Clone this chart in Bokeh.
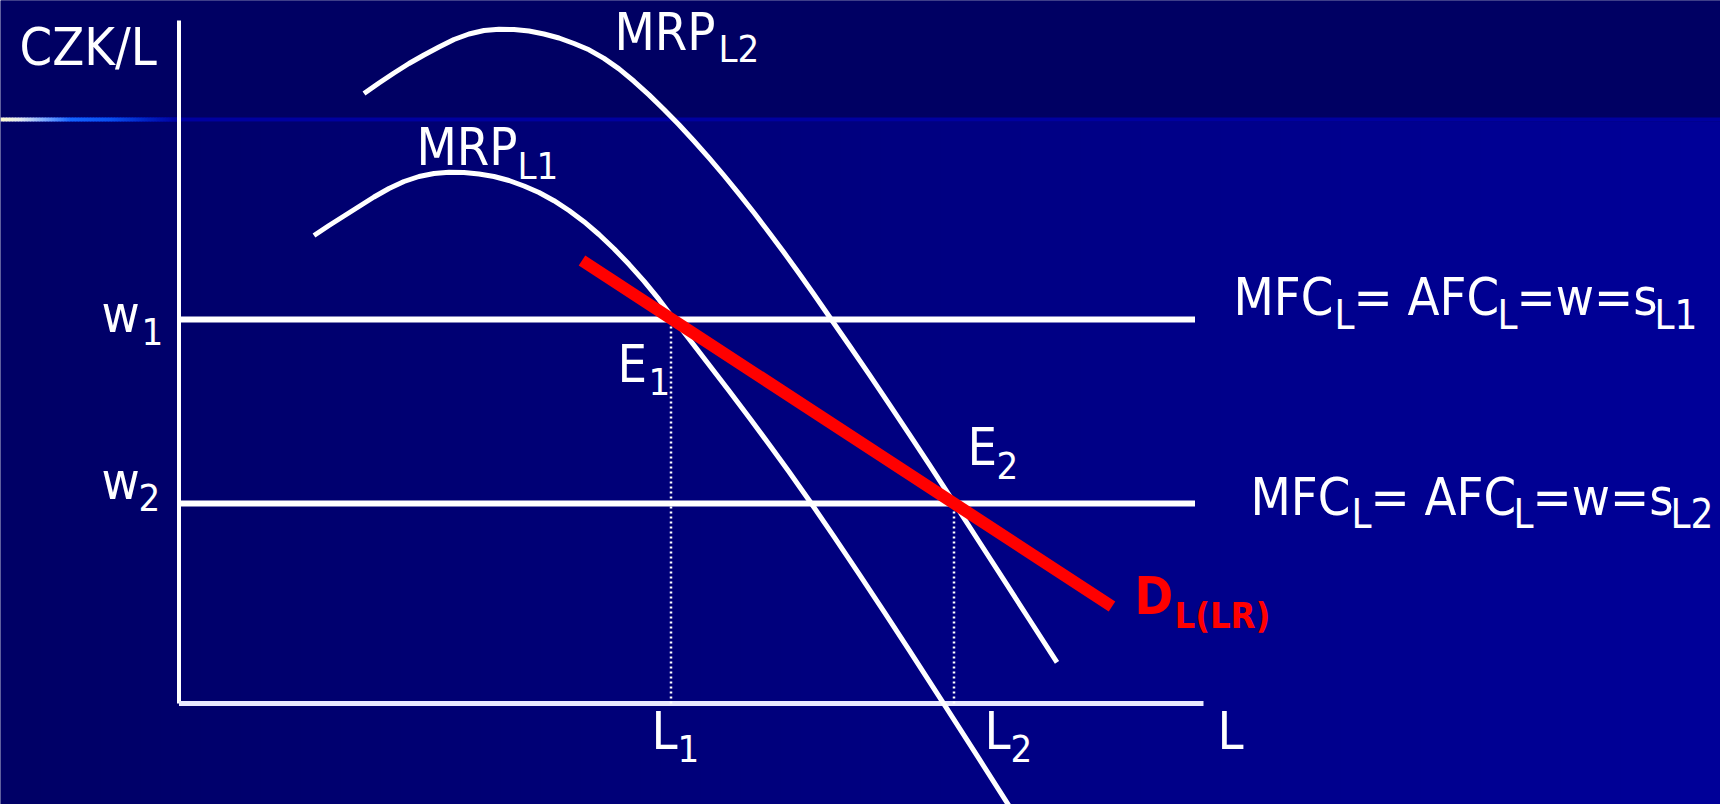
import numpy as np
from bokeh.plotting import figure
from bokeh.models import Range1d, ColumnDataSource
from bokeh.core.properties import value
from bokeh.embed import file_html
from bokeh.resources import INLINE

# ---------------- data (L on x, CZK/L on y) ----------------
mrp1_x = [13.5, 15.0, 16.5, 18.0, 19.5, 21.0, 22.5, 24.0, 25.5, 27.0, 28.5, 30.0, 31.5, 33.0,
          34.5, 36.0, 37.5, 39.0, 40.5, 42.0, 43.5, 45.0, 46.5, 48.0, 49.2, 51.0, 53.0, 55.0,
          57.0, 59.0, 61.0, 63.2, 65.5, 68.0, 70.5, 73.0, 76.5, 80.0, 83.0]
mrp1_y = [46.8, 47.8, 48.75, 49.7, 50.65, 51.5, 52.2, 52.7, 53.0, 53.12, 53.1, 52.95, 52.7, 52.3,
          51.75, 51.1, 50.28, 49.3, 48.18, 46.9, 45.48, 43.92, 42.24, 40.41, 38.81, 36.47, 33.87, 31.27,
          28.63, 25.93, 23.17, 20.05, 16.69, 12.97, 9.19, 5.37, -0.06, -5.52, -10.23]
mrp2_x = [18.5, 20.0, 21.5, 23.0, 24.5, 26.0, 27.5, 29.0, 30.5, 32.0, 33.5, 35.0, 36.5, 38.0,
          39.5, 41.0, 42.5, 44.0, 45.5, 47.0, 48.5, 50.0, 51.5, 53.0, 54.5, 56.0, 57.5, 59.0,
          60.5, 62.0, 63.5, 65.3, 67.0, 69.0, 71.0, 73.0, 75.0, 77.5, 80.0, 82.5, 85.0, 87.8]
mrp2_y = [61.0, 62.05, 63.05, 64.0, 64.85, 65.65, 66.4, 66.95, 67.3, 67.42, 67.4, 67.25, 66.95, 66.55,
          66.0, 65.37, 64.51, 63.46, 62.22, 60.86, 59.4, 57.87, 56.25, 54.56, 52.8, 50.97, 49.07, 47.11,
          45.09, 43.02, 40.9, 38.3, 35.85, 32.93, 29.97, 26.97, 23.93, 20.08, 16.2, 12.33, 8.45, 4.11]
w1 = 38.4
w2 = 20.0
L1 = 49.2
L2 = 77.5
dlr_x = [40.3, 93.3]
dlr_y = [44.3, 9.7]
x_axis_max = 102.45
y_axis_max = 68.3
wage_line_end = 101.6

# label pieces: (text, left px, baseline px, role)
label_pieces = [
    ("CZK/L", 19, 66, "main"),
    ("w", 101, 333.3, "main"), ("1", 141, 345, "sub"),
    ("w", 101, 500, "main"), ("2", 138, 511.7, "sub"),
    ("MRP", 614, 51, "main"), ("L2", 718, 63.3, "sub"),
    ("MRP", 416, 166.7, "main"), ("L1", 517, 180, "sub"),
    ("E", 617, 383.3, "main"), ("1", 648, 395, "sub"),
    ("E", 967, 466.7, "main"), ("2", 996, 479.3, "sub"),
    ("L", 651, 750, "main"), ("1", 677, 762.7, "sub"),
    ("L", 984, 750, "main"), ("2", 1010, 762.7, "sub"),
    ("L", 1217, 750, "main"),
    ("MFC", 1233, 316.7, "main"), ("L", 1334, 329.3, "sub2"),
    ("= AFC", 1353, 316.7, "main"), ("L", 1497, 329.3, "sub2"),
    ("=w=s", 1516, 316.7, "main"), ("L1", 1654, 329.3, "sub2"),
    ("MFC", 1250, 516.7, "main"), ("L", 1351, 528.3, "sub2"),
    ("= AFC", 1370, 516.7, "main"), ("L", 1513, 528.3, "sub2"),
    ("=w=s", 1532, 516.7, "main"), ("L2", 1670, 528.3, "sub2"),
    ("D", 1134, 615, "dmain"), ("L(LR)", 1174, 628.3, "dsub"),
]

# ---------------- layout ----------------
W, H = 1720, 804
OX, OY = 178.5, 703.0   # page px of the origin
S = 10.0                # px per data unit


def dx(px):
    return (px - OX) / S


def dy(py):
    return (OY - py) / S


p = figure(width=W, height=H, output_backend="svg", toolbar_location=None,
           x_axis_type=None, y_axis_type=None,
           x_range=Range1d(dx(0), dx(W)), y_range=Range1d(dy(H), dy(0)),
           min_border=0, outline_line_color=None,
           background_fill_color="#000063", border_fill_color="#000063")

# background: dark top band, horizontal gradient below
n = 86
edges = np.linspace(0, 1720, n + 1)
c0 = np.array([0x00, 0x00, 0x66])
c1 = np.array([0x00, 0x00, 0x99])
cols = []
for i in range(n):
    t = (edges[i] + edges[i + 1]) / 2 / 1720
    c = (c0 + (c1 - c0) * t).astype(int)
    cols.append("#%02x%02x%02x" % tuple(c))
p.quad(left=[dx(e) for e in edges[:-1]], right=[dx(e + 0.6) for e in edges[1:]],
       top=dy(121), bottom=dy(820), fill_color=cols, line_color=None)
p.quad(left=dx(0), right=dx(1720), top=dy(-5), bottom=dy(117),
       fill_color="#000063", line_color=None)
p.quad(left=dx(0), right=dx(1720), top=dy(117), bottom=dy(121),
       fill_color="#0000a0", line_color=None)
stops_x = [0, 20, 45, 70, 110, 150, 178]
stops_c = [(255, 250, 205), (225, 232, 240), (120, 168, 255), (20, 100, 255),
           (10, 80, 240), (0, 30, 190), (0, 0, 160)]
hx = np.arange(0, 178, 3)
hc = []
for xx in hx:
    r = np.interp(xx + 1.5, stops_x, [c[0] for c in stops_c])
    g = np.interp(xx + 1.5, stops_x, [c[1] for c in stops_c])
    b = np.interp(xx + 1.5, stops_x, [c[2] for c in stops_c])
    hc.append("#%02x%02x%02x" % (int(r), int(g), int(b)))
p.quad(left=[dx(v) for v in hx], right=[dx(v + 3.5) for v in hx],
       top=dy(117), bottom=dy(121), fill_color=hc, line_color=None)

# axes
p.line([0, 0], [0, y_axis_max], line_color="white", line_width=4)
p.line([0, x_axis_max], [0, 0], line_color="#e8e8ff", line_width=5)

# wage lines
p.line([0.2, wage_line_end], [w1, w1], line_color="white", line_width=6)
p.line([0.2, wage_line_end], [w2, w2], line_color="white", line_width=6)

# dotted guides
p.line([L1, L1], [0, w1], line_color="white", line_width=2.5, line_dash="2 3")
p.line([L2, L2], [0, w2], line_color="white", line_width=2.5, line_dash="2 3")

# MRP curves
p.line(mrp1_x, mrp1_y, line_color="white", line_width=5, line_join="round")
p.line(mrp2_x, mrp2_y, line_color="white", line_width=5, line_join="round")

# long-run labour demand
p.line(dlr_x, dlr_y, line_color="#ff0000", line_width=12)

# texts
FONT = "DejaVu Sans Condensed"
K = 0.38  # baseline correction (fraction of font size) for the svg text box
styles = {
    "main": dict(size=52, style="normal", color="white"),
    "sub": dict(size=38, style="normal", color="white"),
    "sub2": dict(size=40, style="normal", color="white"),
    "dmain": dict(size=52, style="bold", color="#ff0000"),
    "dsub": dict(size=36, style="bold", color="#ff0000"),
}
for role, st in styles.items():
    pcs = [pc for pc in label_pieces if pc[3] == role]
    src = ColumnDataSource(dict(x=[dx(pc[1]) for pc in pcs],
                                y=[dy(pc[2] - K * st["size"]) for pc in pcs],
                                t=[pc[0] for pc in pcs]))
    p.text(x="x", y="y", text="t", source=src, text_font=value(FONT),
           text_font_size="%dpx" % st["size"], text_font_style=st["style"],
           text_color=st["color"], text_align="left", text_baseline="alphabetic")

open("out.html", "w").write(file_html(p, INLINE))
